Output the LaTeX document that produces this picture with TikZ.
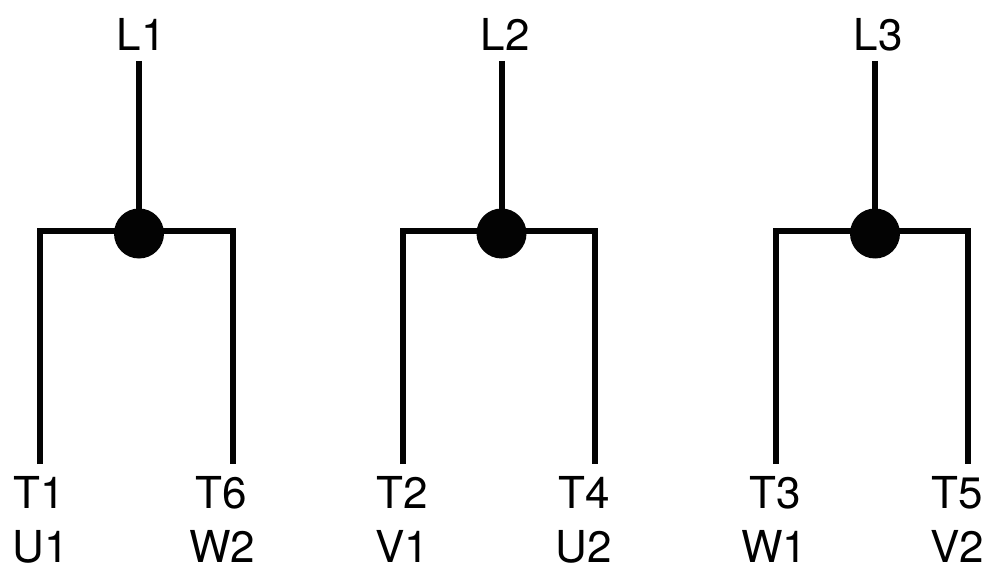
\documentclass[tikz,border=0pt]{standalone}
\usepackage{fontspec}
\setmainfont{TeX Gyre Heros}
\begin{document}
\begin{tikzpicture}[x=1pt,y=-1pt,
  lbl/.style={inner sep=0pt,font=\fontsize{44}{44}\selectfont,anchor=center,text height=31.6pt,text depth=0pt},
  wire/.style={line width=6pt,line join=miter,line cap=butt,color=black!99},
  hub/.style={circle,fill=black!99,inner sep=0pt,minimum size=50pt}]
\useasboundingbox (0,0) rectangle (1000,588);
\foreach \id/\cx/\l/\r/\top/\bl/\br/\ul/\ur/\xt/\xl/\xr/\xlb/\xrb in {
 a/139/40/233/L1/T1/T6/U1/W2/141/39.5/221.5/40.5/222,
 b/501.5/402.5/595/L2/T2/T4/V1/U2/505/402/584/402/584,
 c/875/775.5/968/L3/T3/T5/W1/V2/878/775/957/774/957}{
  \node[hub] (h\id) at (\cx,233.5) {};
  \node[lbl] (top\id) at (\xt,34.5) {\top};
  \node[lbl] (tl\id) at (\xl,492.5) {\bl};
  \node[lbl] (tr\id) at (\xr,492.5) {\br};
  \node[lbl] (ul\id) at (\xlb,546.5) {\ul};
  \node[lbl] (ur\id) at (\xrb,546.5) {\ur};
  \coordinate (wt\id) at (\cx,61);
  \coordinate (cl\id) at (\l,231);
  \coordinate (cr\id) at (\r,231);
  \coordinate (el\id) at (\l,464);
  \coordinate (er\id) at (\r,464);
  \draw[wire] (wt\id) -- (h\id.center);
  \draw[wire] (el\id) -- (cl\id) -- (cr\id) -- (er\id);
}
\end{tikzpicture}
\end{document}
